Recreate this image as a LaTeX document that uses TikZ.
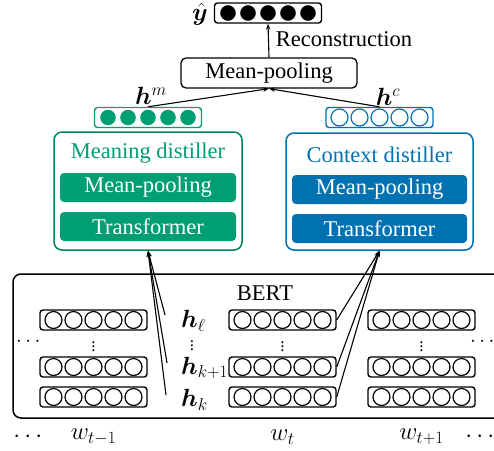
\documentclass[tikz,border=0pt]{standalone}
\usepackage{amsmath}
\usepackage{bm}
\usepackage{fontspec}
\setmainfont{Liberation Serif}
\usetikzlibrary{arrows.meta}
\definecolor{mgreen}{HTML}{009E73}
\definecolor{mgreenD}{HTML}{00825E}
\definecolor{cblue}{HTML}{0072B2}
\newcommand\fs{\fontsize{22.5}{26}\selectfont}
\newcommand\fm{\fontsize{25}{29}\selectfont}
\newcommand\fd{\fontsize{17}{20}\selectfont}
% name, x, y, box colour, circle draw, circle fill
\newcommand\vrow[6]{%
  \node[vbox, draw=#4] (#1) at (#2,#3) {};
  \foreach \i in {-2,...,2}
    \draw[line width=1.2pt, draw=#5, fill=#6] ([xshift=\i*20pt]#1.center) circle (8.5pt);
}
\begin{document}
\begin{tikzpicture}[x=1pt,y=-1pt,
  every node/.style={font=\fs, inner sep=0pt},
  mlab/.style={font=\fm},
  dlab/.style={font=\fd},
  vbox/.style={draw, rounded corners=3pt, line width=1.4pt, minimum width=107pt, minimum height=20pt},
  pbox/.style={draw, rounded corners=5pt, line width=1.3pt, minimum width=176pt, minimum height=30pt},
  distbox/.style={draw, rounded corners=8pt, line width=1.5pt, minimum width=188pt, minimum height=118pt},
  innerbox/.style={rounded corners=4pt, minimum width=176pt, minimum height=29pt, text=white},
  arr/.style={-{Stealth[length=6pt,width=4.5pt]}, line width=1.1pt}]
\useasboundingbox (0,0) rectangle (494,450);

% top
\vrow{yhat}{268}{13}{black}{white}{black}
\node[mlab] (yl) at (200,14) {$\hat{\bm{y}}$};
\node[pbox] (pool) at (269,73) {Mean-pooling};
\node (rec) at (344,39) {Reconstruction};
\draw[arr] (pool.north) -- (yhat.south);

% h^m, h^c
\vrow{hm}{148}{117.5}{mgreen}{white}{mgreen}
\vrow{hc}{379.5}{117.5}{cblue}{cblue}{white}
\node[mlab] (hml) at (151,96) {$\bm{h}^m$};
\node[mlab] (hcl) at (388,97) {$\bm{h}^c$};
\draw[arr] (hm.north) -- (pool.south);
\draw[arr] (hc.north) -- (pool.south);

% distillers
\node[distbox, draw=mgreenD] (mdist) at (148,191) {};
\node[text=mgreen] (mdt) at (148,153) {Meaning distiller};
\node[innerbox, fill=mgreen] (mdp) at (148,187.5) {Mean-pooling};
\node[innerbox, fill=mgreen] (mdtf) at (148,226.5) {Transformer};

\node[distbox, draw=cblue, minimum width=187pt, minimum height=117pt] (cdist) at (379.5,191.5) {};
\node[text=cblue] (cdt) at (379.5,155) {Context distiller};
\node[innerbox, fill=cblue, minimum width=175pt] (cdp) at (379.5,189.5) {Mean-pooling};
\node[innerbox, fill=cblue, minimum width=175pt] (cdtf) at (379.5,228.5) {Transformer};

% BERT frame
\draw[rounded corners=8pt, line width=1.5pt] (494,274) -- (13,274) -- (13,418) -- (494,418);
\node (bert) at (265,293) {BERT};

% vectors
\foreach \c/\x in {a/93.5,b/282.5,c/421.5}{
  \vrow{v\c1}{\x}{320}{black}{black}{white}
  \vrow{v\c2}{\x}{367}{black}{black}{white}
  \vrow{v\c3}{\x}{397}{black}{black}{white}
  \node[dlab] (dots\c) at (\x,344) {$\vdots$};
}
\node (ldots) at (30,342) {$\cdots$};
\node (rdots) at (484,342) {$\cdots$};

% layer labels
\node[mlab, anchor=west] (hl) at (181,321) {$\bm{h}_\ell$};
\node[dlab] (hd) at (192,343) {$\vdots$};
\node[mlab, anchor=west] (hk1) at (181,368) {$\bm{h}_{k+1}$};
\node[mlab, anchor=west] (hk) at (181,400) {$\bm{h}_k$};

% words
\node[mlab] (bl) at (30,437) {$\cdots$};
\node[mlab] (w1) at (93.5,437) {$w_{t-1}$};
\node[mlab] (w2) at (282.5,437) {$w_t$};
\node[mlab] (w3) at (421.5,437) {$w_{t+1}$};
\node[mlab] (br) at (482,437) {$\cdots$};

% arrows to meaning distiller
\coordinate (s1) at (165,315);
\coordinate (s2) at (167,363);
\coordinate (s3) at (166,395);
\draw[arr] (s1) -- (mdist.south);
\draw[arr] (s2) -- (mdist.south);
\draw[arr] (s3) -- (mdist.south);

% arrows to context distiller
\draw[arr] (vb1.east) -- (cdist.south);
\draw[arr] (vb2.east) -- (cdist.south);
\draw[arr] (vb3.east) -- (cdist.south);
\end{tikzpicture}
\end{document}
